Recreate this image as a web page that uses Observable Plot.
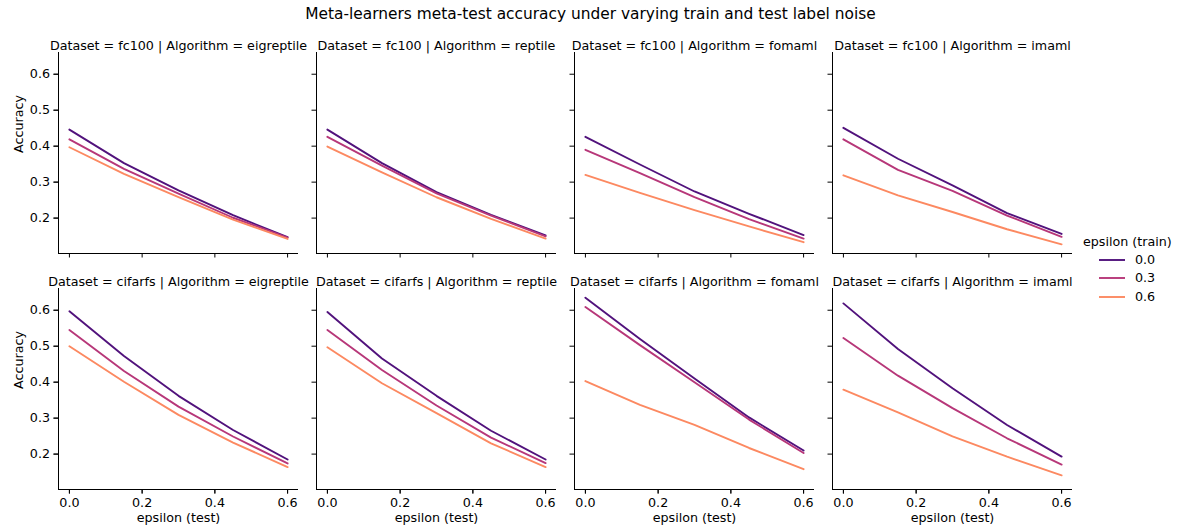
<!DOCTYPE html>
<html><head><meta charset="utf-8">
<script src="https://cdn.jsdelivr.net/npm/d3@7"></script>
<script src="https://cdn.jsdelivr.net/npm/@observablehq/plot@0.6"></script>
<style>
body{margin:0;background:#fff;font-family:"DejaVu Sans",sans-serif;color:#000;}
#wrap{position:relative;width:1181px;height:531px;overflow:hidden;}
#chart{position:absolute;left:0;top:0;}
#title{position:absolute;left:0;width:1181px;top:5px;text-align:center;font-size:15.4px;line-height:18px;white-space:nowrap;}
.lg{position:absolute;font-size:12.7px;line-height:14px;white-space:nowrap;}
</style></head><body>
<div id="wrap"><div id="chart"></div><div id="title">Meta-learners meta-test accuracy under varying train and test label noise</div></div>
<script>
const datasets = ["fc100", "cifarfs"];
const algorithms = ["eigreptile", "reptile", "fomaml", "imaml"];
const epsTest = [0, 0.15, 0.3, 0.45, 0.6];
const epsTrain = [0.0, 0.3, 0.6];
const xTicks = [0, 0.2, 0.4, 0.6];
const yTicks = [0.2, 0.3, 0.4, 0.5, 0.6];
const palette = ["#51127c", "#b73779", "#fc8961"];

// rows: epsilon(train) 0.0, 0.3, 0.6 ; columns: epsilon(test) values
const fc100_eigreptile = [
  [0.446, 0.353, 0.277, 0.208, 0.147],
  [0.419, 0.337, 0.268, 0.201, 0.146],
  [0.397, 0.323, 0.258, 0.196, 0.142]];
const fc100_reptile = [
  [0.446, 0.353, 0.272, 0.209, 0.152],
  [0.426, 0.346, 0.269, 0.207, 0.149],
  [0.399, 0.327, 0.258, 0.198, 0.143]];
const fc100_fomaml = [
  [0.426, 0.349, 0.274, 0.212, 0.153],
  [0.390, 0.325, 0.258, 0.197, 0.143],
  [0.320, 0.270, 0.222, 0.177, 0.133]];
const fc100_imaml = [
  [0.451, 0.365, 0.291, 0.214, 0.156],
  [0.419, 0.334, 0.276, 0.207, 0.148],
  [0.319, 0.263, 0.217, 0.169, 0.127]];
const cifarfs_eigreptile = [
  [0.597, 0.473, 0.362, 0.267, 0.185],
  [0.545, 0.431, 0.332, 0.249, 0.174],
  [0.500, 0.401, 0.309, 0.232, 0.164]];
const cifarfs_reptile = [
  [0.595, 0.466, 0.362, 0.265, 0.185],
  [0.545, 0.434, 0.335, 0.246, 0.175],
  [0.497, 0.397, 0.314, 0.230, 0.164]];
const cifarfs_fomaml = [
  [0.635, 0.520, 0.410, 0.302, 0.210],
  [0.609, 0.503, 0.400, 0.296, 0.203],
  [0.403, 0.337, 0.281, 0.217, 0.158]];
const cifarfs_imaml = [
  [0.619, 0.492, 0.383, 0.281, 0.193],
  [0.523, 0.418, 0.328, 0.244, 0.171],
  [0.379, 0.316, 0.249, 0.193, 0.141]];

const tables = {
  fc100: {eigreptile: fc100_eigreptile, reptile: fc100_reptile, fomaml: fc100_fomaml, imaml: fc100_imaml},
  cifarfs: {eigreptile: cifarfs_eigreptile, reptile: cifarfs_reptile, fomaml: cifarfs_fomaml, imaml: cifarfs_imaml}
};

const rows = [];
const panels = [];
for (const ds of datasets) for (const alg of algorithms) {
  panels.push({Dataset: ds, Algorithm: alg});
  tables[ds][alg].forEach((vals, i) => vals.forEach((v, j) =>
    rows.push({Dataset: ds, Algorithm: alg, train: epsTrain[i], test: epsTest[j], acc: v})));
}

// matplotlib-like 5% autoscale margins
const pad = (lo, hi) => { const m = (hi - lo) * 0.05; return [lo - m, hi + m]; };
const xDom = pad(d3.min(epsTest), d3.max(epsTest));
const yDom = pad(d3.min(rows, d => d.acc), d3.max(rows, d => d.acc));
const f1 = d3.format(".1f");
const ink = "#000";
const fs = 12.7;

const chart = Plot.plot({
  width: 1181, height: 531,
  marginTop: 51.7, marginBottom: 41.7, marginLeft: 58, marginRight: 108,
  facet: {marginTop: 0, marginBottom: 0, marginLeft: 0, marginRight: 0},
  fx: {domain: algorithms, paddingInner: 0.0693, paddingOuter: 0, axis: null, label: null},
  fy: {domain: datasets, paddingInner: 0.1466, paddingOuter: 0, axis: null, label: null},
  x: {domain: xDom},
  y: {domain: yDom},
  color: {type: "ordinal", domain: epsTrain, range: palette},
  style: {fontFamily: "DejaVu Sans", fontSize: fs + "px", color: ink, background: "#fff"},
  marks: [
    Plot.ruleX([xDom[0]], {stroke: ink, strokeWidth: 1}),
    Plot.ruleY([yDom[0]], {stroke: ink, strokeWidth: 1}),
    Plot.axisX({facetAnchor: null, ticks: xTicks, tickSize: 4.5, tickFormat: () => "", label: null, stroke: ink}),
    Plot.axisY({facetAnchor: null, ticks: yTicks, tickSize: 4.5, tickFormat: () => "", label: null, stroke: ink}),
    Plot.axisX({ticks: xTicks, tickSize: 4.5, tickPadding: 4, tickFormat: f1, label: null, stroke: ink, fill: ink}),
    Plot.axisY({ticks: yTicks, tickSize: 4.5, tickPadding: 4, tickFormat: f1, label: null, stroke: ink, fill: ink}),
    Plot.line(rows, {x: "test", y: "acc", stroke: "train", z: "train", fx: "Algorithm", fy: "Dataset", strokeWidth: 1.9}),
    Plot.text(panels, {fx: "Algorithm", fy: "Dataset", frameAnchor: "top", dy: -11.7,
      text: d => `Dataset = ${d.Dataset} | Algorithm = ${d.Algorithm}`, fill: ink, fontSize: fs}),
    Plot.text(panels.filter(d => d.Algorithm === algorithms[0]), {fx: "Algorithm", fy: "Dataset",
      frameAnchor: "left", dx: -40, rotate: -90, text: () => "Accuracy", fill: ink, fontSize: fs}),
    Plot.text(panels.filter(d => d.Dataset === datasets[datasets.length - 1]), {fx: "Algorithm", fy: "Dataset",
      frameAnchor: "bottom", dy: 32.4, text: () => "epsilon (test)", fill: ink, fontSize: fs})
  ]
});
document.getElementById("chart").appendChild(chart);

// legend
const wrap = document.getElementById("wrap");
const lt = document.createElement("div");
lt.className = "lg"; lt.textContent = "epsilon (train)";
lt.style.left = "1083px"; lt.style.top = "234.7px";
wrap.appendChild(lt);
epsTrain.forEach((e, i) => {
  const y = 260 + i * 18.35;
  const sw = document.createElementNS("http://www.w3.org/2000/svg", "svg");
  sw.setAttribute("width", 28); sw.setAttribute("height", 6);
  sw.style.position = "absolute"; sw.style.left = "1098px"; sw.style.top = (y - 3) + "px";
  sw.innerHTML = `<line x1="1" x2="27" y1="3" y2="3" stroke="${palette[i]}" stroke-width="1.9"/>`;
  wrap.appendChild(sw);
  const t = document.createElement("div");
  t.className = "lg"; t.textContent = f1(e);
  t.style.left = "1135px"; t.style.top = (y - 7) + "px";
  wrap.appendChild(t);
});
</script>
</body></html>
